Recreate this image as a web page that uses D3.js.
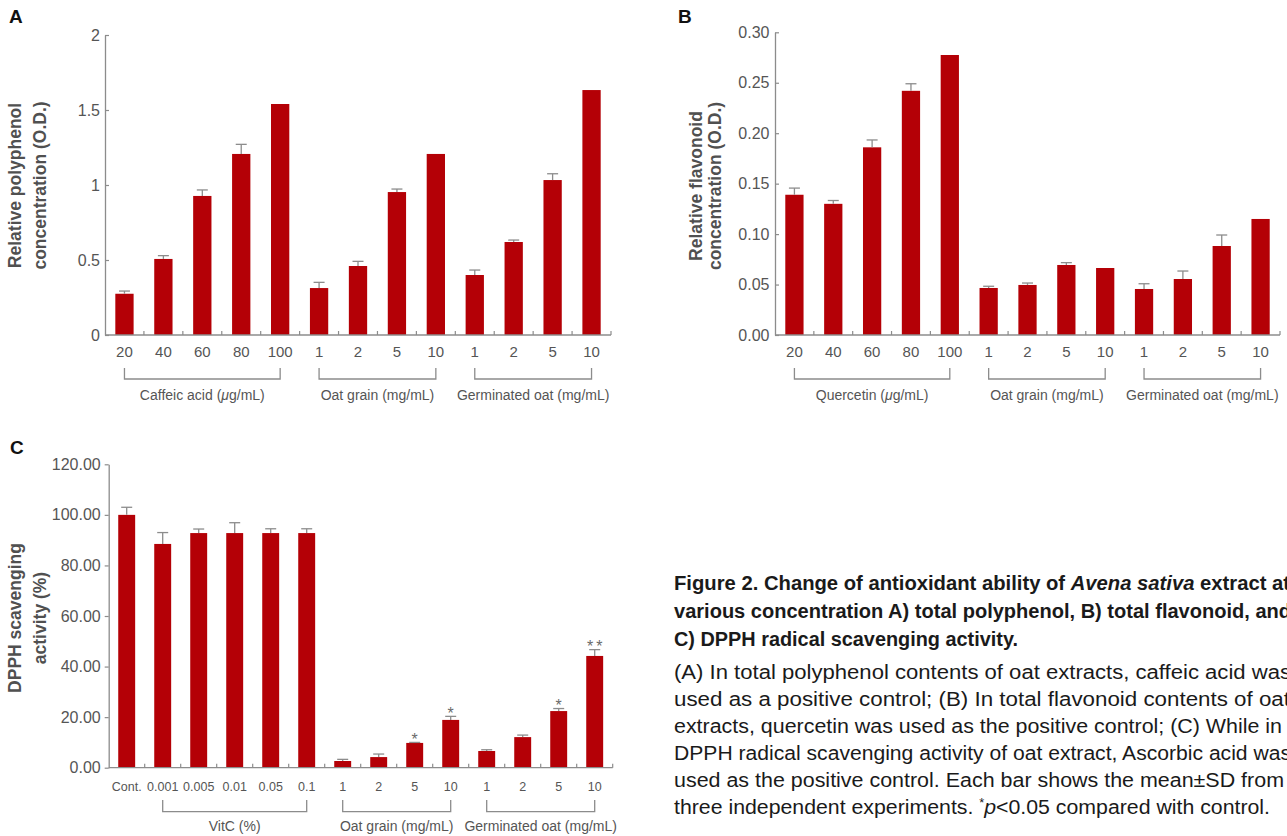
<!DOCTYPE html>
<html>
<head>
<meta charset="utf-8">
<script src="https://cdn.jsdelivr.net/npm/d3@7"></script>
<style>
  html, body { margin: 0; padding: 0; background: #fff; }
  svg { display: block; font-family: "Liberation Sans", Arial, sans-serif; }
</style>
</head>
<body>
<svg id="fig" width="1287" height="836"></svg>
<script>
// ---------- Panel A: total polyphenol (O.D.) ----------
const polyLabels = ["20", "40", "60", "80", "100", "1", "2", "5", "10", "1", "2", "5", "10"];
const polyMean   = [0.275, 0.507, 0.927, 1.207, 1.54, 0.313, 0.46, 0.953, 1.207, 0.40, 0.62, 1.033, 1.633];
const polySD     = [0.018, 0.022, 0.040, 0.064, 0, 0.038, 0.031, 0.020, 0, 0.033, 0.013, 0.042, 0];
const polyTicks  = [0, 0.5, 1, 1.5, 2];
const polyGroups = ["Caffeic acid (μg/mL)", "Oat grain (mg/mL)", "Germinated oat (mg/mL)"];
const polySpans  = [[0, 4], [5, 8], [9, 12]];

// ---------- Panel B: total flavonoid (O.D.) ----------
const flavLabels = ["20", "40", "60", "80", "100", "1", "2", "5", "10", "1", "2", "5", "10"];
const flavMean   = [0.139, 0.130, 0.186, 0.242, 0.2775, 0.0466, 0.0496, 0.0694, 0.0664, 0.0456, 0.0555, 0.0882, 0.115];
const flavSD     = [0.0066, 0.0033, 0.0073, 0.0070, 0, 0.0017, 0.0019, 0.0023, 0, 0.0052, 0.0079, 0.0109, 0];
const flavTicks  = [0, 0.05, 0.10, 0.15, 0.20, 0.25, 0.30];
const flavGroups = ["Quercetin (μg/mL)", "Oat grain (mg/mL)", "Germinated oat (mg/mL)"];
const flavSpans  = [[0, 4], [5, 8], [9, 12]];

// ---------- Panel C: DPPH radical scavenging (%) ----------
const dpphLabels = ["Cont.", "0.001", "0.005", "0.01", "0.05", "0.1", "1", "2", "5", "10", "1", "2", "5", "10"];
const dpphMean   = [100, 88.5, 92.8, 92.8, 92.8, 92.8, 2.65, 4.2, 9.8, 18.9, 6.6, 12.1, 22.4, 44.2];
const dpphSD     = [3.0, 4.5, 1.6, 4.1, 1.7, 1.7, 0.65, 1.2, 0.2, 1.4, 0.5, 0.8, 1.0, 2.5];
const dpphSig    = ["", "", "", "", "", "", "", "", "*", "*", "", "", "*", "**"];
const dpphTicks  = [0, 20, 40, 60, 80, 100, 120];
const dpphGroups = ["VitC (%)", "Oat grain (mg/mL)", "Germinated oat (mg/mL)"];
const dpphSpans  = [[1, 5], [6, 9], [10, 13]];

// ---------- Figure legend text ----------
const captionTitle = [
  [{ t: "Figure 2. Change of antioxidant ability of " }, { t: "Avena sativa", i: true }, { t: " extract at" }],
  [{ t: "various concentration A) total polyphenol, B) total flavonoid, and" }],
  [{ t: "C) DPPH radical scavenging activity." }]
];
const captionBody = [
  [{ t: "(A) In total polyphenol contents of oat extracts, caffeic acid was" }],
  [{ t: "used as a positive control; (B) In total flavonoid contents of oat" }],
  [{ t: "extracts, quercetin was used as the positive control; (C) While in" }],
  [{ t: "DPPH radical scavenging activity of oat extract, Ascorbic acid was" }],
  [{ t: "used as the positive control. Each bar shows the mean±SD from" }],
  [{ t: "three independent experiments. " }, { t: "*", sup: true }, { t: "p", i: true }, { t: "<0.05 compared with control." }]
];

const AXIS = "#8c8c8c";
const INK = "#555555";
const BAR = "#b40006";

const svg = d3.select("#fig");

// writes a label, setting any "μ" in italics
function writeLabel(sel, str) {
  const parts = str.split("μ");
  parts.forEach((part, k) => {
    if (k > 0) sel.append("tspan").attr("font-style", "italic").text("μ");
    if (part) sel.append("tspan").text(part);
  });
}

function drawPanel(p) {
  const g = svg.append("g");
  const idx = d3.range(p.mean.length);

  const x = d3.scaleBand().domain(idx).range([p.left, p.right])
    .paddingInner(0.53).paddingOuter(0.265);
  const y = d3.scaleLinear().domain([0, p.max]).range([p.bottom, p.top]);
  const bw = x.bandwidth();
  const cx = i => x(i) + bw / 2;

  // value axis
  const yAxis = d3.axisLeft(y).tickValues(p.ticks).tickFormat(p.fmt)
    .tickSizeInner(p.yTick).tickSizeOuter(0).tickPadding(p.yPad);
  const yg = g.append("g").attr("transform", `translate(${p.left},0)`).call(yAxis);
  yg.select(".domain").attr("stroke", AXIS).attr("stroke-width", 1.3);
  yg.selectAll(".tick line").attr("stroke", AXIS).attr("stroke-width", 1.2);
  yg.selectAll(".tick text").attr("fill", INK).attr("font-size", p.yFont)
    .attr("font-family", "'Liberation Sans', Arial, sans-serif");

  // bars
  g.append("g").selectAll("rect").data(idx).join("rect")
    .attr("x", i => x(i)).attr("width", bw)
    .attr("y", i => y(p.mean[i]))
    .attr("height", i => y(0) - y(p.mean[i]))
    .attr("fill", BAR);

  // error bars (upper whisker only)
  const eb = g.append("g").attr("stroke", AXIS).attr("stroke-width", 1.3).attr("fill", "none");
  idx.filter(i => p.sd[i] > 0).forEach(i => {
    const top = y(p.mean[i] + p.sd[i]);
    eb.append("line").attr("x1", cx(i)).attr("x2", cx(i)).attr("y1", y(p.mean[i])).attr("y2", top);
    eb.append("line").attr("x1", cx(i) - 5.5).attr("x2", cx(i) + 5.5).attr("y1", top).attr("y2", top);
  });

  // significance marks
  if (p.sig) {
    g.append("g").selectAll("text").data(idx.filter(i => p.sig[i])).join("text")
      .attr("x", i => cx(i) + (p.sig[i].length > 1 ? 1.5 : 0))
      .attr("y", i => y(p.mean[i] + p.sd[i]) + 2.5)
      .attr("text-anchor", "middle").attr("font-size", 16).attr("fill", "#6a6a6a")
      .attr("letter-spacing", i => p.sig[i].length > 1 ? 3 : 0)
      .text(i => p.sig[i]);
  }

  // category axis: base line, boundary ticks, labels
  g.append("line").attr("x1", p.left).attr("x2", p.right)
    .attr("y1", p.bottom).attr("y2", p.bottom)
    .attr("stroke", AXIS).attr("stroke-width", 1.3);
  g.append("g").selectAll("line").data(idx).join("line")
    .attr("x1", i => cx(i) + x.step() / 2).attr("x2", i => cx(i) + x.step() / 2)
    .attr("y1", p.bottom).attr("y2", p.bottom - 4)
    .attr("stroke", AXIS).attr("stroke-width", 1.2);

  const xAxis = d3.axisBottom(x).tickFormat(i => p.labels[i]).tickSize(0).tickPadding(p.xPad);
  const xg = g.append("g").attr("transform", `translate(0,${p.bottom})`).call(xAxis);
  xg.select(".domain").remove();
  xg.selectAll(".tick text").attr("fill", INK).attr("font-size", p.xFont)
    .attr("font-family", "'Liberation Sans', Arial, sans-serif");

  // group brackets and names
  p.spans.forEach(([a, b], k) => {
    const xa = cx(a), xb = cx(b);
    const y0 = p.bottom + p.brTop, y1 = p.bottom + p.brBottom;
    g.append("path")
      .attr("d", `M${xa},${y0}V${y1}H${xb}V${y0}`)
      .attr("fill", "none").attr("stroke", AXIS).attr("stroke-width", 1.3);
    const t = g.append("text")
      .attr("x", (xa + xb) / 2).attr("y", p.bottom + p.grpBase)
      .attr("text-anchor", "middle").attr("font-size", 14).attr("fill", INK);
    writeLabel(t, p.groups[k]);
  });

  // value-axis title (two lines, rotated)
  p.title.forEach((line, k) => {
    g.append("text")
      .attr("transform", `translate(${p.titleX[k]},${p.titleY}) rotate(-90)`)
      .attr("text-anchor", "middle").attr("font-size", 17.5).attr("font-weight", "bold")
      .attr("fill", "#505050").text(line);
  });

  // panel letter
  g.append("text").attr("x", p.letterX).attr("y", p.letterY)
    .attr("font-size", 19).attr("font-weight", "bold").attr("fill", "#111")
    .text(p.letter);
}

drawPanel({
  letter: "A", letterX: 9, letterY: 23,
  left: 105, right: 611, top: 35, bottom: 335, max: 2,
  ticks: polyTicks, fmt: d => String(d), yTick: -4, yPad: 5, yFont: 16,
  labels: polyLabels, mean: polyMean, sd: polySD,
  xFont: 15, xPad: 11.7,
  groups: polyGroups, spans: polySpans, brTop: 33, brBottom: 44, grpBase: 65,
  title: ["Relative polyphenol", "concentration (O.D.)"], titleX: [21.3, 46.3], titleY: 185.5
});

drawPanel({
  letter: "B", letterX: 678, letterY: 23,
  left: 775, right: 1280, top: 32.3, bottom: 335, max: 0.30,
  ticks: flavTicks, fmt: d3.format(".2f"), yTick: -4, yPad: 5.5, yFont: 16,
  labels: flavLabels, mean: flavMean, sd: flavSD,
  xFont: 15, xPad: 11.7,
  groups: flavGroups, spans: flavSpans, brTop: 33, brBottom: 44, grpBase: 65,
  title: ["Relative flavonoid", "concentration (O.D.)"], titleX: [701.7, 721.3], titleY: 186
});

drawPanel({
  letter: "C", letterX: 10, letterY: 454,
  left: 108.7, right: 612.7, top: 464.3, bottom: 767.7, max: 120,
  ticks: dpphTicks, fmt: d3.format(".2f"), yTick: 4, yPad: 4, yFont: 16,
  labels: dpphLabels, mean: dpphMean, sd: dpphSD, sig: dpphSig,
  xFont: 12.5, xPad: 14,
  groups: dpphGroups, spans: dpphSpans, brTop: 32.3, brBottom: 44, grpBase: 63.3,
  title: ["DPPH scavenging", "activity (%)"], titleX: [21.3, 46.3], titleY: 618
});

// ---------- legend block ----------
const capX = 674;
const titleBase = [590, 618, 646];
const titleLen = [616, 617, 344];
const bodyBase = [679, 706, 733, 760, 787, 814];
const bodyLen = [617, 616, 608, 617, 610, 596];

function writeLine(segs, yb, len, bold) {
  const t = svg.append("text")
    .attr("x", capX).attr("y", yb)
    .attr("font-size", 20).attr("fill", "#1a1a1a")
    .attr("font-weight", bold ? "bold" : "normal")
    .attr("textLength", len).attr("lengthAdjust", "spacingAndGlyphs");
  segs.forEach(s => {
    const ts = t.append("tspan").text(s.t);
    if (s.i) ts.attr("font-style", "italic");
    if (s.sup) ts.attr("font-size", 12).attr("baseline-shift", "7");
  });
}
captionTitle.forEach((segs, k) => writeLine(segs, titleBase[k], titleLen[k], true));
captionBody.forEach((segs, k) => writeLine(segs, bodyBase[k], bodyLen[k], false));
</script>
</body>
</html>
